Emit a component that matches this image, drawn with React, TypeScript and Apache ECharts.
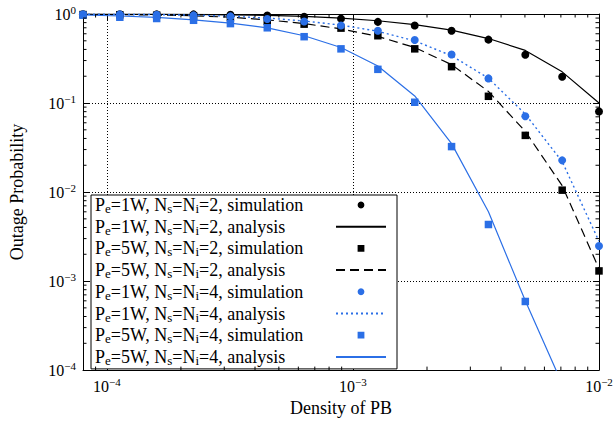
import React, { useEffect, useRef } from "react";
import * as echarts from "echarts";

// ---------- data ----------
const X_VALUES = [
  8e-5, 1.129e-4, 1.594e-4, 2.251e-4, 3.178e-4, 4.487e-4, 6.335e-4, 8.944e-4,
  1.263e-3, 1.783e-3, 2.517e-3, 3.554e-3, 5.018e-3, 7.085e-3, 1e-2,
];

// Pe=1W, Ns=Ni=2
const SIM_1W_N2 = [0.995, 0.995, 0.99, 0.99, 0.98, 0.96, 0.93, 0.887, 0.815, 0.742, 0.648, 0.515, 0.348, 0.197, 0.0805];
const ANA_1W_N2 = [0.998, 0.997, 0.995, 0.99, 0.98, 0.965, 0.94, 0.9, 0.84, 0.76, 0.66, 0.53, 0.39, 0.224, 0.1];
// Pe=5W, Ns=Ni=2
const SIM_5W_N2 = [0.985, 0.98, 0.97, 0.95, 0.91, 0.83, 0.769, 0.694, 0.57, 0.406, 0.256, 0.119, 0.0433, 0.0105, 0.0013];
const ANA_5W_N2 = [0.99, 0.985, 0.975, 0.955, 0.92, 0.86, 0.78, 0.68, 0.56, 0.42, 0.27, 0.135, 0.048, 0.0118, 0.00138];
// Pe=1W, Ns=Ni=4
const SIM_1W_N4 = [0.99, 0.99, 0.98, 0.965, 0.94, 0.88, 0.822, 0.742, 0.648, 0.511, 0.351, 0.189, 0.0709, 0.0227, 0.00248];
const ANA_1W_N4 = [0.995, 0.99, 0.985, 0.97, 0.945, 0.9, 0.835, 0.75, 0.64, 0.5, 0.34, 0.19, 0.075, 0.022, 0.0028];
// Pe=5W, Ns=Ni=4
const SIM_5W_N4 = [0.97, 0.92, 0.89, 0.85, 0.78, 0.7, 0.556, 0.406, 0.239, 0.102, 0.0324, 0.00432, 0.00059, null, null];
const ANA_5W_N4 = [0.975, 0.95, 0.915, 0.86, 0.79, 0.7, 0.57, 0.42, 0.26, 0.12, 0.035, 0.006, 0.0006, 0.00007, 0.000003];

const SERIES_NAMES = [
  "Pe=1W, Ns=Ni=2, simulation",
  "Pe=1W, Ns=Ni=2, analysis",
  "Pe=5W, Ns=Ni=2, simulation",
  "Pe=5W, Ns=Ni=2, analysis",
  "Pe=1W, Ns=Ni=4, simulation",
  "Pe=1W, Ns=Ni=4, analysis",
  "Pe=5W, Ns=Ni=4, simulation",
  "Pe=5W, Ns=Ni=4, analysis",
];

const X_MIN = 8e-5;
const X_MAX = 1e-2;
const Y_MIN = 1e-4;
const Y_MAX = 1;

const X_MINOR_TICKS = [
  9e-5, 2e-4, 3e-4, 4e-4, 5e-4, 6e-4, 7e-4, 8e-4, 9e-4,
  2e-3, 3e-3, 4e-3, 5e-3, 6e-3, 7e-3, 8e-3, 9e-3,
];
const Y_MINOR_TICKS = [
  2e-4, 3e-4, 4e-4, 5e-4, 6e-4, 7e-4, 8e-4, 9e-4,
  2e-3, 3e-3, 4e-3, 5e-3, 6e-3, 7e-3, 8e-3, 9e-3,
  2e-2, 3e-2, 4e-2, 5e-2, 6e-2, 7e-2, 8e-2, 9e-2,
  0.2, 0.3, 0.4, 0.5, 0.6, 0.7, 0.8, 0.9,
];

const FONT = "Liberation Serif";
const BLUE = "#2b6fe6";
const BLACK = "#000000";

function pairs(ys: (number | null)[]) {
  return X_VALUES.map((x, i) => (ys[i] == null ? [x, null] : [x, ys[i]]));
}

function powLabel(v: number) {
  const e = Math.log10(v);
  const r = Math.round(e);
  if (Math.abs(e - r) > 1e-6) return "";
  const ex = r < 0 ? "\u2212" + -r : String(r);
  return `{b|10}{p|${ex}}`;
}

function legendText(name: string) {
  return name.replace(
    /^Pe=(\w+), Ns=Ni=(\d+), (\w+)$/,
    "{m|P}{s|e}{m|=$1, N}{s|s}{m|=N}{s|i}{m|=$2, $3}"
  );
}

const axisRich = {
  b: { fontSize: 16, fontFamily: FONT, color: BLACK, lineHeight: 20, verticalAlign: "middle" },
  p: { fontSize: 11, fontFamily: FONT, color: BLACK, lineHeight: 10, verticalAlign: "top" },
};

export default function App() {
  const ref = useRef<HTMLDivElement>(null);

  useEffect(() => {
    document.body.style.margin = "0";
    if (!ref.current) return;
    const chart = echarts.init(ref.current, undefined, { renderer: "svg" });

    const simStyle = (color: string, symbol: string, size: number) => ({
      type: "line",
      showSymbol: true,
      symbol,
      symbolSize: size,
      itemStyle: { color },
      lineStyle: { opacity: 0, width: 0 },
      emphasis: { disabled: true },
      z: 4,
    });
    const anaStyle = (color: string, type: any, width: number) => ({
      type: "line",
      symbol: "none",
      showSymbol: false,
      itemStyle: { color, opacity: 0 },
      lineStyle: { color, type, width },
      emphasis: { disabled: true },
      z: 3,
    });

    const dataSets = [SIM_1W_N2, ANA_1W_N2, SIM_5W_N2, ANA_5W_N2, SIM_1W_N4, ANA_1W_N4, SIM_5W_N4, ANA_5W_N4];
    const styles = [
      simStyle(BLACK, "circle", 8),
      anaStyle(BLACK, "solid", 1.2),
      simStyle(BLACK, "rect", 7.5),
      anaStyle(BLACK, [9, 5], 1.2),
      simStyle(BLUE, "circle", 8),
      anaStyle(BLUE, [2, 3], 1.4),
      simStyle(BLUE, "rect", 7.5),
      anaStyle(BLUE, "solid", 1.2),
    ];

    const series: any[] = dataSets.map((d, i) => ({
      name: SERIES_NAMES[i],
      ...styles[i],
      data: pairs(d),
    }));

    // minor ticks on bottom/top axes
    series.push({
      type: "custom",
      name: "xMinor",
      silent: true,
      clip: false,
      z: 5,
      data: X_MINOR_TICKS.map((v) => [v, Y_MIN]),
      renderItem: (params: any, api: any) => {
        const v = api.value(0);
        const b = api.coord([v, Y_MIN]);
        const t = api.coord([v, Y_MAX]);
        return {
          type: "group",
          children: [
            { type: "line", shape: { x1: b[0], y1: b[1], x2: b[0], y2: b[1] - 3.5 }, style: { stroke: BLACK, lineWidth: 1 } },
            { type: "line", shape: { x1: t[0], y1: t[1], x2: t[0], y2: t[1] + 3.5 }, style: { stroke: BLACK, lineWidth: 1 } },
          ],
        };
      },
    });
    // minor ticks on left/right axes
    series.push({
      type: "custom",
      name: "yMinor",
      silent: true,
      clip: false,
      z: 5,
      data: Y_MINOR_TICKS.map((v) => [X_MIN, v]),
      renderItem: (params: any, api: any) => {
        const v = api.value(1);
        const l = api.coord([X_MIN, v]);
        const r = api.coord([X_MAX, v]);
        return {
          type: "group",
          children: [
            { type: "line", shape: { x1: l[0], y1: l[1], x2: l[0] + 3.5, y2: l[1] }, style: { stroke: BLACK, lineWidth: 1 } },
            { type: "line", shape: { x1: r[0], y1: r[1], x2: r[0] - 3.5, y2: r[1] }, style: { stroke: BLACK, lineWidth: 1 } },
          ],
        };
      },
    });

    const axisLine = { show: true, lineStyle: { color: BLACK, width: 1 } };
    const axisTick = { show: true, inside: true, length: 6, lineStyle: { color: BLACK, width: 1 } };
    const splitLine = { show: true, lineStyle: { color: BLACK, type: [1, 2], width: 1 } };

    chart.setOption({
      animation: false,
      backgroundColor: "#ffffff",
      textStyle: { fontFamily: FONT, color: BLACK },
      grid: { left: 83, right: 17, top: 14, bottom: 47, containLabel: false },
      xAxis: [
        {
          type: "log",
          logBase: 10,
          min: X_MIN,
          max: X_MAX,
          position: "bottom",
          name: "Density of PB",
          nameLocation: "middle",
          nameGap: 22,
          nameTextStyle: { fontSize: 18, fontFamily: FONT, color: BLACK },
          axisLine,
          axisTick,
          splitLine,
          minorTick: { show: false },
          axisLabel: { margin: 6, formatter: powLabel, rich: axisRich, hideOverlap: false },
        },
        {
          type: "log",
          logBase: 10,
          min: X_MIN,
          max: X_MAX,
          position: "top",
          axisLine,
          axisTick,
          splitLine: { show: false },
          axisLabel: { show: false },
        },
      ],
      yAxis: [
        {
          type: "log",
          logBase: 10,
          min: Y_MIN,
          max: Y_MAX,
          position: "left",
          name: "Outage Probability",
          nameLocation: "middle",
          nameGap: 57,
          nameTextStyle: { fontSize: 18, fontFamily: FONT, color: BLACK },
          axisLine,
          axisTick,
          splitLine,
          axisLabel: { margin: 7, formatter: powLabel, rich: axisRich, hideOverlap: false },
        },
        {
          type: "log",
          logBase: 10,
          min: Y_MIN,
          max: Y_MAX,
          position: "right",
          axisLine,
          axisTick,
          splitLine: { show: false },
          axisLabel: { show: false },
        },
      ],
      legend: {
        orient: "vertical",
        left: 91,
        top: 195,
        align: "right",
        itemWidth: 50,
        itemHeight: 8.5,
        itemGap: 2.7,
        padding: [1, 10, 2, 4],
        backgroundColor: "#ffffff",
        borderColor: BLACK,
        borderWidth: 1,
        borderRadius: 0,
        selectedMode: false,
        formatter: legendText,
        textStyle: {
          width: 236,
          fontFamily: FONT,
          fontSize: 18,
          color: BLACK,
          rich: {
            m: { fontSize: 18, fontFamily: FONT, color: BLACK, lineHeight: 20, align: "left", verticalAlign: "middle" },
            s: { fontSize: 13, fontFamily: FONT, color: BLACK, lineHeight: 3, align: "left", verticalAlign: "bottom" },
          },
        },
        data: SERIES_NAMES.map((n, i) =>
          i % 2 === 1 ? { name: n, itemStyle: { opacity: 0 } } : { name: n }
        ),
      },
      series,
    });

    return () => chart.dispose();
  }, []);

  return <div ref={ref} style={{ width: 616, height: 422 }} />;
}
